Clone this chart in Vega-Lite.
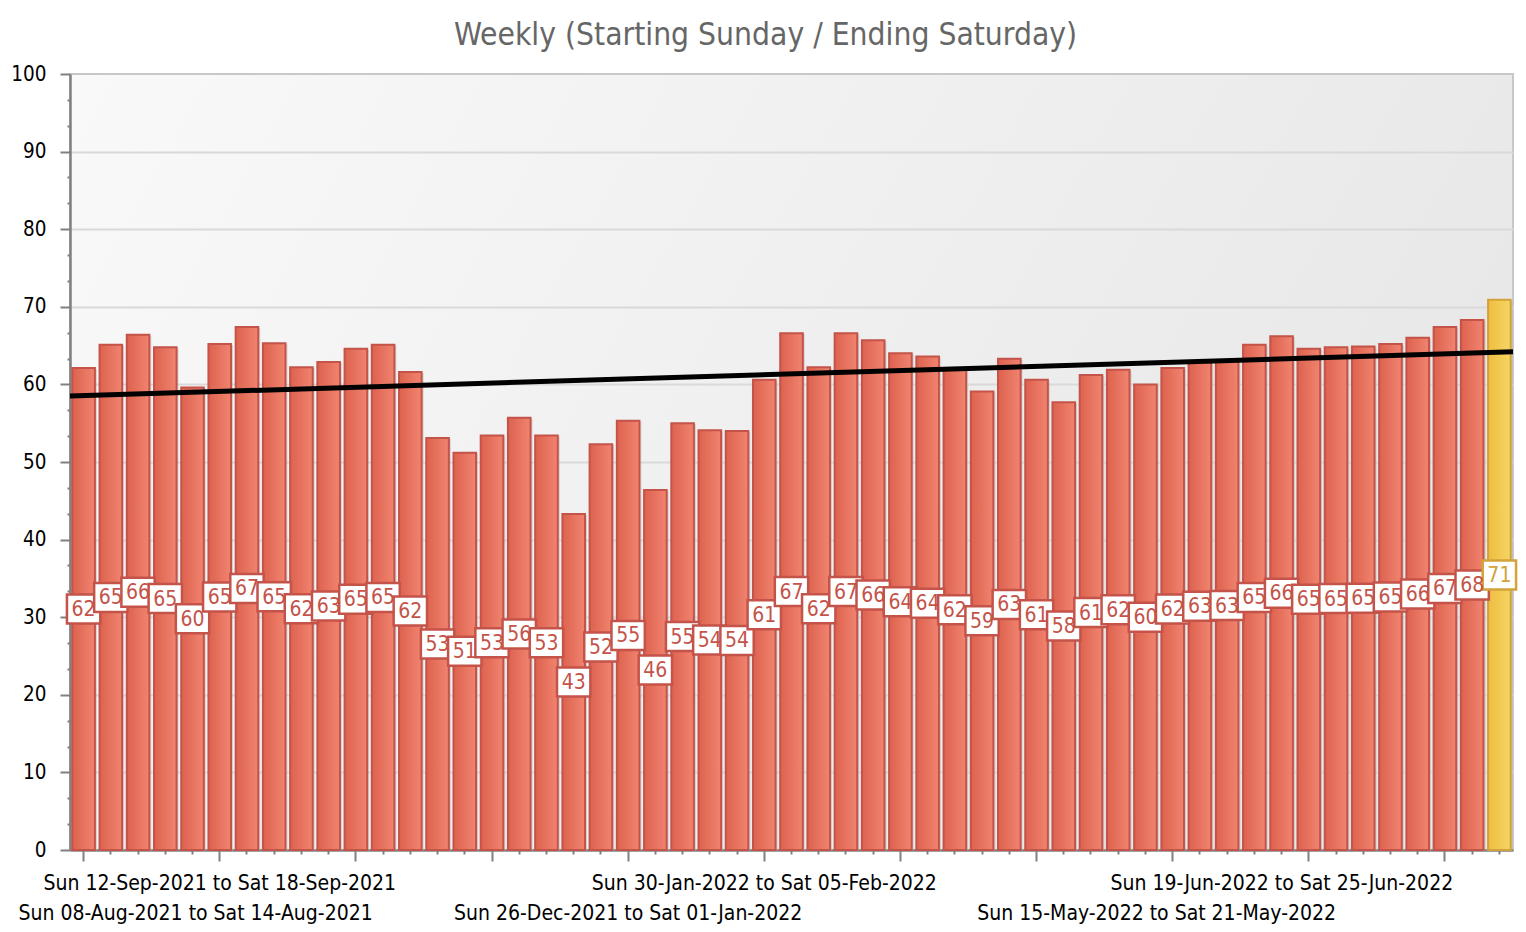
{
  "$schema": "https://vega.github.io/schema/vega-lite/v6.json",
  "width": 1443,
  "height": 776,
  "autosize": "none",
  "padding": {"left": 70, "top": 74, "right": 13, "bottom": 82},
  "title": {
    "text": "Weekly (Starting Sunday / Ending Saturday)",
    "font": "DejaVu Sans Condensed",
    "fontSize": 31.5,
    "fontWeight": "normal",
    "color": "#666666",
    "anchor": "middle",
    "frame": "group",
    "dx": -26,
    "offset": 13
  },
  "config": {
    "font": "DejaVu Sans Condensed",
    "view": {
      "stroke": "#c8c8c8",
      "strokeWidth": 2,
      "fill": {"gradient": "linear", "x1": 0, "y1": 0, "x2": 1, "y2": 0.3, "stops": [{"offset": 0, "color": "#f9f9f9"}, {"offset": 1, "color": "#e8e8e8"}]}
    }
  },
  "data": {
    "values": [
      {"week": "Sun 08-Aug-2021 to Sat 14-Aug-2021", "value": 62.1, "status": "complete"},
      {"week": "Sun 15-Aug-2021 to Sat 21-Aug-2021", "value": 65.1, "status": "complete"},
      {"week": "Sun 22-Aug-2021 to Sat 28-Aug-2021", "value": 66.4, "status": "complete"},
      {"week": "Sun 29-Aug-2021 to Sat 04-Sep-2021", "value": 64.8, "status": "complete"},
      {"week": "Sun 05-Sep-2021 to Sat 11-Sep-2021", "value": 59.6, "status": "complete"},
      {"week": "Sun 12-Sep-2021 to Sat 18-Sep-2021", "value": 65.2, "status": "complete"},
      {"week": "Sun 19-Sep-2021 to Sat 25-Sep-2021", "value": 67.4, "status": "complete"},
      {"week": "Sun 26-Sep-2021 to Sat 02-Oct-2021", "value": 65.3, "status": "complete"},
      {"week": "Sun 03-Oct-2021 to Sat 09-Oct-2021", "value": 62.2, "status": "complete"},
      {"week": "Sun 10-Oct-2021 to Sat 16-Oct-2021", "value": 62.9, "status": "complete"},
      {"week": "Sun 17-Oct-2021 to Sat 23-Oct-2021", "value": 64.6, "status": "complete"},
      {"week": "Sun 24-Oct-2021 to Sat 30-Oct-2021", "value": 65.1, "status": "complete"},
      {"week": "Sun 31-Oct-2021 to Sat 06-Nov-2021", "value": 61.6, "status": "complete"},
      {"week": "Sun 07-Nov-2021 to Sat 13-Nov-2021", "value": 53.1, "status": "complete"},
      {"week": "Sun 14-Nov-2021 to Sat 20-Nov-2021", "value": 51.2, "status": "complete"},
      {"week": "Sun 21-Nov-2021 to Sat 27-Nov-2021", "value": 53.4, "status": "complete"},
      {"week": "Sun 28-Nov-2021 to Sat 04-Dec-2021", "value": 55.7, "status": "complete"},
      {"week": "Sun 05-Dec-2021 to Sat 11-Dec-2021", "value": 53.4, "status": "complete"},
      {"week": "Sun 12-Dec-2021 to Sat 18-Dec-2021", "value": 43.3, "status": "complete"},
      {"week": "Sun 19-Dec-2021 to Sat 25-Dec-2021", "value": 52.3, "status": "complete"},
      {"week": "Sun 26-Dec-2021 to Sat 01-Jan-2022", "value": 55.3, "status": "complete"},
      {"week": "Sun 02-Jan-2022 to Sat 08-Jan-2022", "value": 46.4, "status": "complete"},
      {"week": "Sun 09-Jan-2022 to Sat 15-Jan-2022", "value": 55.0, "status": "complete"},
      {"week": "Sun 16-Jan-2022 to Sat 22-Jan-2022", "value": 54.1, "status": "complete"},
      {"week": "Sun 23-Jan-2022 to Sat 29-Jan-2022", "value": 54.0, "status": "complete"},
      {"week": "Sun 30-Jan-2022 to Sat 05-Feb-2022", "value": 60.6, "status": "complete"},
      {"week": "Sun 06-Feb-2022 to Sat 12-Feb-2022", "value": 66.6, "status": "complete"},
      {"week": "Sun 13-Feb-2022 to Sat 19-Feb-2022", "value": 62.2, "status": "complete"},
      {"week": "Sun 20-Feb-2022 to Sat 26-Feb-2022", "value": 66.6, "status": "complete"},
      {"week": "Sun 27-Feb-2022 to Sat 05-Mar-2022", "value": 65.7, "status": "complete"},
      {"week": "Sun 06-Mar-2022 to Sat 12-Mar-2022", "value": 64.0, "status": "complete"},
      {"week": "Sun 13-Mar-2022 to Sat 19-Mar-2022", "value": 63.6, "status": "complete"},
      {"week": "Sun 20-Mar-2022 to Sat 26-Mar-2022", "value": 61.9, "status": "complete"},
      {"week": "Sun 27-Mar-2022 to Sat 02-Apr-2022", "value": 59.1, "status": "complete"},
      {"week": "Sun 03-Apr-2022 to Sat 09-Apr-2022", "value": 63.3, "status": "complete"},
      {"week": "Sun 10-Apr-2022 to Sat 16-Apr-2022", "value": 60.6, "status": "complete"},
      {"week": "Sun 17-Apr-2022 to Sat 23-Apr-2022", "value": 57.7, "status": "complete"},
      {"week": "Sun 24-Apr-2022 to Sat 30-Apr-2022", "value": 61.2, "status": "complete"},
      {"week": "Sun 01-May-2022 to Sat 07-May-2022", "value": 61.9, "status": "complete"},
      {"week": "Sun 08-May-2022 to Sat 14-May-2022", "value": 60.0, "status": "complete"},
      {"week": "Sun 15-May-2022 to Sat 21-May-2022", "value": 62.1, "status": "complete"},
      {"week": "Sun 22-May-2022 to Sat 28-May-2022", "value": 62.8, "status": "complete"},
      {"week": "Sun 29-May-2022 to Sat 04-Jun-2022", "value": 63.0, "status": "complete"},
      {"week": "Sun 05-Jun-2022 to Sat 11-Jun-2022", "value": 65.1, "status": "complete"},
      {"week": "Sun 12-Jun-2022 to Sat 18-Jun-2022", "value": 66.2, "status": "complete"},
      {"week": "Sun 19-Jun-2022 to Sat 25-Jun-2022", "value": 64.6, "status": "complete"},
      {"week": "Sun 26-Jun-2022 to Sat 02-Jul-2022", "value": 64.8, "status": "complete"},
      {"week": "Sun 03-Jul-2022 to Sat 09-Jul-2022", "value": 64.9, "status": "complete"},
      {"week": "Sun 10-Jul-2022 to Sat 16-Jul-2022", "value": 65.2, "status": "complete"},
      {"week": "Sun 17-Jul-2022 to Sat 23-Jul-2022", "value": 66.0, "status": "complete"},
      {"week": "Sun 24-Jul-2022 to Sat 30-Jul-2022", "value": 67.4, "status": "complete"},
      {"week": "Sun 31-Jul-2022 to Sat 06-Aug-2022", "value": 68.3, "status": "complete"},
      {"week": "Sun 07-Aug-2022 to Sat 13-Aug-2022", "value": 70.9, "status": "current"}
    ]
  },
  "layer": [
    {
      "encoding": {
        "x": {
          "field": "week",
          "type": "ordinal",
          "sort": null,
          "scale": {"type": "band", "paddingInner": 0.17, "paddingOuter": 0.085},
          "axis": {
            "title": null,
            "grid": false,
            "domainColor": "#808080",
            "domainWidth": 2.5,
            "tickColor": "#808080",
            "tickWidth": 2,
            "tickSize": {"condition": {"test": "indexof(['08-Aug-2021','12-Sep-2021','17-Oct-2021','21-Nov-2021','26-Dec-2021','30-Jan-2022','06-Mar-2022','10-Apr-2022','15-May-2022','19-Jun-2022','24-Jul-2022'], substring(datum.value,4,15)) >= 0", "value": 11}, "value": 4},
            "labelExpr": "indexof(['08-Aug-2021','26-Dec-2021','15-May-2022','12-Sep-2021','30-Jan-2022','19-Jun-2022'], substring(datum.value,4,15)) >= 0 ? datum.value : ''",
            "labelPadding": {"condition": {"test": "indexof(['08-Aug-2021','26-Dec-2021','15-May-2022'], substring(datum.value,4,15)) >= 0", "value": 41}, "value": 11},
            "labelOffset": {"condition": [
              {"test": "substring(datum.value,4,15) === '08-Aug-2021'", "value": 112},
              {"test": "substring(datum.value,4,15) === '15-May-2022'", "value": -16},
              {"test": "substring(datum.value,4,15) === '19-Jun-2022'", "value": -27}
            ], "value": 0},
            "labelAngle": 0,
            "labelFontSize": 21,
            "labelColor": "#000000",
            "labelLimit": 0,
            "labelOverlap": false,
            "labelBound": false,
            "labelFlush": false,
            "labelBaseline": "top"
          }
        },
        "y": {
          "field": "value",
          "type": "quantitative",
          "scale": {"domain": [0, 100], "nice": false},
          "axis": {
            "title": null,
            "values": [0, 3.333, 6.667, 10, 13.333, 16.667, 20, 23.333, 26.667, 30, 33.333, 36.667, 40, 43.333, 46.667, 50, 53.333, 56.667, 60, 63.333, 66.667, 70, 73.333, 76.667, 80, 83.333, 86.667, 90, 93.333, 96.667, 100],
            "labelExpr": "datum.value % 10 === 0 ? datum.label : ''",
            "tickSize": {"condition": {"test": "datum.value % 10 === 0", "value": 10}, "value": 3},
            "grid": true,
            "gridColor": "#d9d9d9",
            "gridWidth": 2,
            "gridOpacity": {"condition": {"test": "datum.value % 10 === 0 && datum.value > 0 && datum.value < 100", "value": 1}, "value": 0},
            "domainColor": "#808080",
            "domainWidth": 2.5,
            "tickColor": "#808080",
            "tickWidth": 2,
            "labelFontSize": 20.5,
            "labelPadding": 14,
            "labelColor": "#000000"
          }
        }
      },
      "layer": [
        {
          "mark": {"type": "bar", "xOffset": 2, "yOffset": 1, "fill": "#b0b0b0", "opacity": 0.45}
        },
        {
          "transform": [{"filter": {"field": "status", "equal": "complete"}}],
          "mark": {
            "type": "bar",
            "stroke": "#c4534a",
            "strokeWidth": 2,
            "fill": {"gradient": "linear", "x1": 0, "y1": 0, "x2": 1, "y2": 0, "stops": [{"offset": 0, "color": "#dd624e"}, {"offset": 1, "color": "#f08470"}]}
          }
        },
        {
          "transform": [{"filter": {"field": "status", "equal": "current"}}],
          "mark": {
            "type": "bar",
            "stroke": "#d2a33a",
            "strokeWidth": 2,
            "fill": {"gradient": "linear", "x1": 0, "y1": 0, "x2": 1, "y2": 0, "stops": [{"offset": 0, "color": "#efbd3e"}, {"offset": 1, "color": "#f5d665"}]}
          }
        }
      ]
    },
    {
      "encoding": {
        "x": {
          "field": "week",
          "type": "ordinal",
          "sort": null,
          "scale": {"type": "band", "paddingInner": 0.17, "paddingOuter": 0.085},
          "axis": null
        },
        "y": {
          "field": "value",
          "type": "quantitative",
          "scale": {"domain": [0, 200], "nice": false},
          "axis": null
        },
        "color": {
          "field": "status",
          "type": "nominal",
          "scale": {"domain": ["complete", "current"], "range": ["#c4534a", "#d2a33a"]},
          "legend": null
        }
      },
      "layer": [
        {
          "mark": {"type": "point", "shape": "M-1.15,-1H1.15V1H-1.15Z", "size": 841, "filled": false, "fill": "#ffffff", "fillOpacity": 1, "strokeWidth": 2.5, "opacity": 1}
        },
        {
          "mark": {"type": "text", "fontSize": 21, "align": "center", "baseline": "middle", "dy": 1},
          "encoding": {"text": {"field": "value", "type": "quantitative", "format": ".0f"}}
        }
      ]
    },
    {
      "data": {"values": [{"t": 0, "v": 58.5}, {"t": 53, "v": 64.2}]},
      "mark": {"type": "line", "color": "#000000", "strokeWidth": 5},
      "encoding": {
        "x": {"field": "t", "type": "quantitative", "scale": {"domain": [0, 53], "nice": false, "zero": false}, "axis": null},
        "y": {"field": "v", "type": "quantitative", "scale": {"domain": [0, 100], "nice": false}, "axis": null}
      }
    }
  ],
  "resolve": {"scale": {"x": "independent", "y": "independent", "color": "independent"}}
}
